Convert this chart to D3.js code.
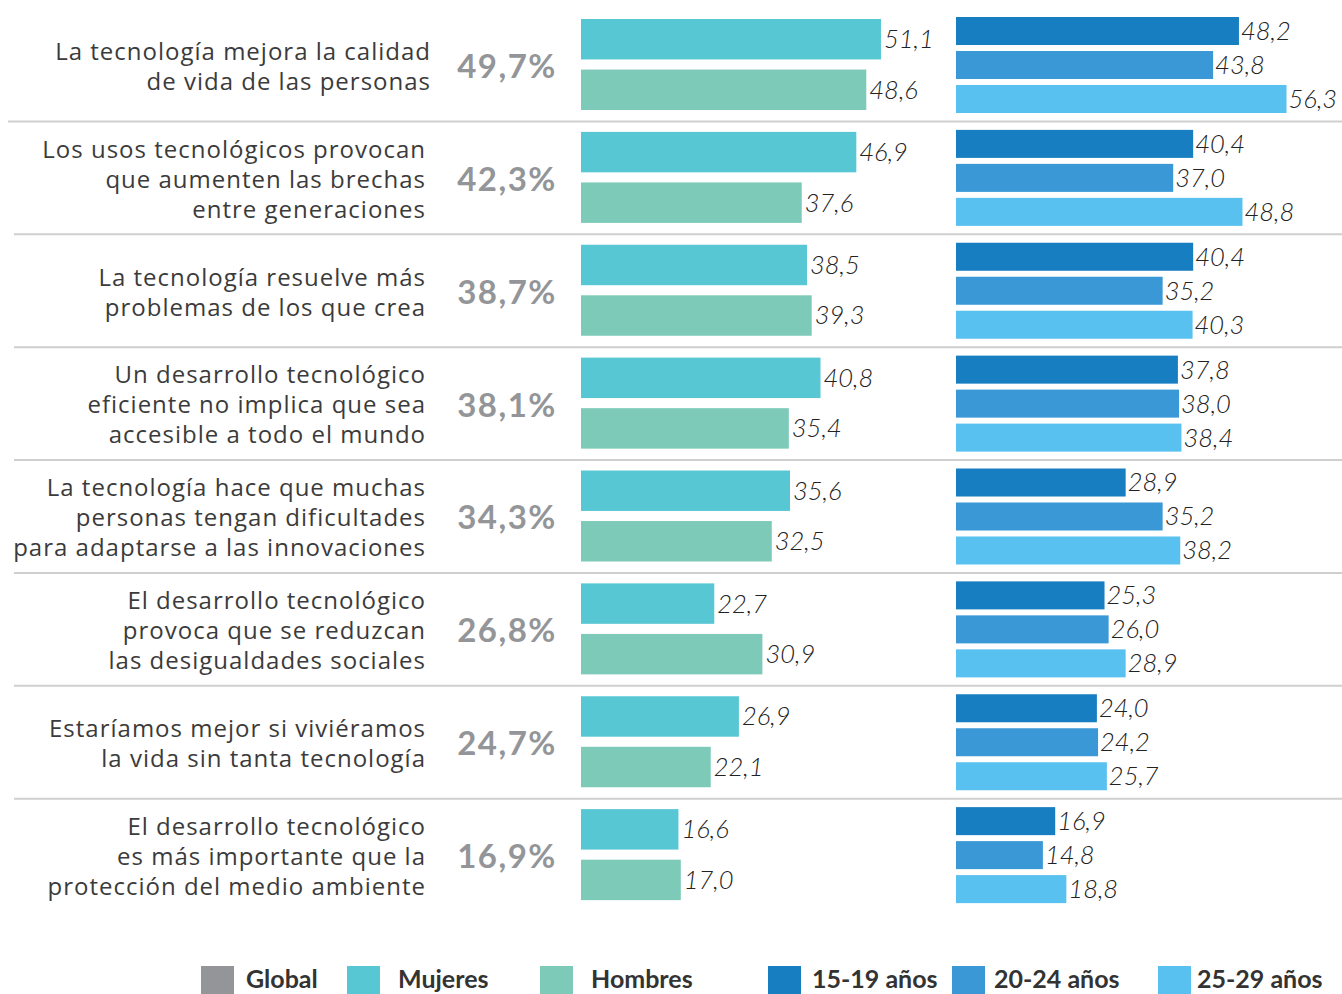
<!DOCTYPE html>
<html>
<head>
<meta charset="utf-8">
<script src="https://cdn.jsdelivr.net/npm/d3@7"></script>
<style>
  body { margin: 0; background: #fff; }
  svg { display: block; }
</style>
</head>
<body>
<div id="Vis"></div>
<script>
// data
var categories = [
  ["La tecnología mejora la calidad", "de vida de las personas"],
  ["Los usos tecnológicos provocan", "que aumenten las brechas", "entre generaciones"],
  ["La tecnología resuelve más", "problemas de los que crea"],
  ["Un desarrollo tecnológico", "eficiente no implica que sea", "accesible a todo el mundo"],
  ["La tecnología hace que muchas", "personas tengan dificultades", "para adaptarse a las innovaciones"],
  ["El desarrollo tecnológico", "provoca que se reduzcan", "las desigualdades sociales"],
  ["Estaríamos mejor si viviéramos", "la vida sin tanta tecnología"],
  ["El desarrollo tecnológico", "es más importante que la", "protección del medio ambiente"]
];
var globalVals = [49.7, 42.3, 38.7, 38.1, 34.3, 26.8, 24.7, 16.9];
var mujeres    = [51.1, 46.9, 38.5, 40.8, 35.6, 22.7, 26.9, 16.6];
var hombres    = [48.6, 37.6, 39.3, 35.4, 32.5, 30.9, 22.1, 17.0];
var age1519    = [48.2, 40.4, 40.4, 37.8, 28.9, 25.3, 24.0, 16.9];
var age2024    = [43.8, 37.0, 35.2, 38.0, 35.2, 26.0, 24.2, 14.8];
var age2529    = [56.3, 48.8, 40.3, 38.4, 38.2, 28.9, 25.7, 18.8];
var genderKeys = ["Mujeres", "Hombres"];
var ageKeys    = ["15-19 años", "20-24 años", "25-29 años"];
var legendKeys = ["Global", "Mujeres", "Hombres", "15-19 años", "20-24 años", "25-29 años"];

var colors = {
  "Global": "#939598",
  "Mujeres": "#57c7d4",
  "Hombres": "#7ccab7",
  "15-19 años": "#167ec1",
  "20-24 años": "#3a98d6",
  "25-29 años": "#58c1ef"
};

// legend layout (swatch left edge, text offset)
var legendX = [201, 347, 540, 768, 952, 1158];
var legendTextDx = [45, 51, 51, 44, 42, 39];

var width = 1342, height = 994;
var fmt = function(v) { return d3.format(".1f")(v).replace(".", ","); };

var svg = d3.select("#Vis")
  .append("svg")
    .attr("width", width)
    .attr("height", height);

// rows
var idx = d3.range(categories.length);
var y = d3.scaleBand().domain(idx).range([8, 911]);

// inner scales for the two bar groups
var yGender = d3.scaleBand().domain(genderKeys).range([11, 102]).paddingInner(0.2);
var yAge = d3.scaleBand().domain(ageKeys).range([9, 105]).paddingInner(0.176);

var x = d3.scaleLinear().domain([0, 56.3]).range([0, 330.5]);
var xGender = 581, xAge = 956;

var rows = idx.map(function(i) {
  return {
    i: i,
    lines: categories[i],
    global: globalVals[i],
    gender: [{k: "Mujeres", v: mujeres[i]}, {k: "Hombres", v: hombres[i]}],
    age: [{k: "15-19 años", v: age1519[i]}, {k: "20-24 años", v: age2024[i]}, {k: "25-29 años", v: age2529[i]}]
  };
});

// separators
svg.append("g")
  .selectAll("line")
  .data(idx.slice(1))
  .enter().append("line")
    .attr("x1", function(d) { return d === 1 ? 8 : 14; })
    .attr("x2", width)
    .attr("y1", function(d) { return y(d) + 0.5; })
    .attr("y2", function(d) { return y(d) + 0.5; })
    .attr("stroke", "#cfcfcf")
    .attr("stroke-width", 2);

var row = svg.append("g")
  .selectAll("g.row")
  .data(rows)
  .enter().append("g")
    .attr("class", "row")
    .attr("transform", function(d) { return "translate(0," + y(d.i) + ")"; });

// category label
row.append("text")
    .attr("text-anchor", "end")
    .attr("font-family", "'Open Sans', sans-serif")
    .attr("font-size", "24px")
    .attr("fill", "#3b3b3b")
    .attr("letter-spacing", "1px")
    .each(function(d) {
      var t = d3.select(this);
      var n = d.lines.length;
      d.lines.forEach(function(l, j) {
        t.append("tspan")
          .attr("x", d.i === 0 ? 431 : 426)
          .attr("y", y.bandwidth() / 2 + 2 + (j - (n - 1) / 2) * 30)
          .attr("dy", "0.35em")
          .text(l);
      });
    });

// global value
row.append("text")
    .attr("x", 507)
    .attr("y", y.bandwidth() / 2 + 2)
    .attr("dy", "0.35em")
    .attr("text-anchor", "middle")
    .attr("font-family", "Lato, sans-serif")
    .attr("font-weight", "bold")
    .attr("font-size", "33px")
    .attr("letter-spacing", "1.5px")
    .attr("fill", colors["Global"])
    .text(function(d) { return fmt(d.global) + "%"; });

// gender bars
var gBars = row.selectAll("g.gb")
  .data(function(d) { return d.gender; })
  .enter().append("g").attr("class", "gb");
gBars.append("rect")
    .attr("x", xGender)
    .attr("y", function(d) { return yGender(d.k); })
    .attr("width", function(d) { return x(d.v); })
    .attr("height", yGender.bandwidth())
    .attr("fill", function(d) { return colors[d.k]; });
gBars.append("text")
    .attr("x", function(d) { return xGender + x(d.v) + 3; })
    .attr("y", function(d) { return yGender(d.k) + yGender.bandwidth() / 2; })
    .attr("dy", "0.35em")
    .attr("font-family", "Lato, sans-serif")
    .attr("font-style", "italic")
    .attr("font-weight", 300)
    .attr("font-size", "25.5px")
    .attr("fill", "#222")
    .text(function(d) { return fmt(d.v); });

// age bars
var aBars = row.selectAll("g.ab")
  .data(function(d) { return d.age; })
  .enter().append("g").attr("class", "ab");
aBars.append("rect")
    .attr("x", xAge)
    .attr("y", function(d) { return yAge(d.k); })
    .attr("width", function(d) { return x(d.v); })
    .attr("height", yAge.bandwidth())
    .attr("fill", function(d) { return colors[d.k]; });
aBars.append("text")
    .attr("x", function(d) { return xAge + x(d.v) + 2; })
    .attr("y", function(d) { return yAge(d.k) + yAge.bandwidth() / 2; })
    .attr("dy", "0.35em")
    .attr("font-family", "Lato, sans-serif")
    .attr("font-style", "italic")
    .attr("font-weight", 300)
    .attr("font-size", "25.5px")
    .attr("fill", "#222")
    .text(function(d) { return fmt(d.v); });

// legend
var legend = svg.append("g")
  .attr("transform", "translate(0,966)")
  .selectAll("g")
  .data(legendKeys)
  .enter().append("g")
    .attr("transform", function(d, j) { return "translate(" + legendX[j] + ",0)"; });
legend.append("rect")
    .attr("width", 33)
    .attr("height", 28)
    .attr("fill", function(d) { return colors[d]; });
legend.append("text")
    .attr("x", function(d, j) { return legendTextDx[j]; })
    .attr("y", 13)
    .attr("dy", "0.35em")
    .attr("font-family", "Lato, sans-serif")
    .attr("font-weight", "bold")
    .attr("font-size", "25px")
    .attr("fill", "#333")
    .text(function(d) { return d; });
</script>
</body>
</html>
